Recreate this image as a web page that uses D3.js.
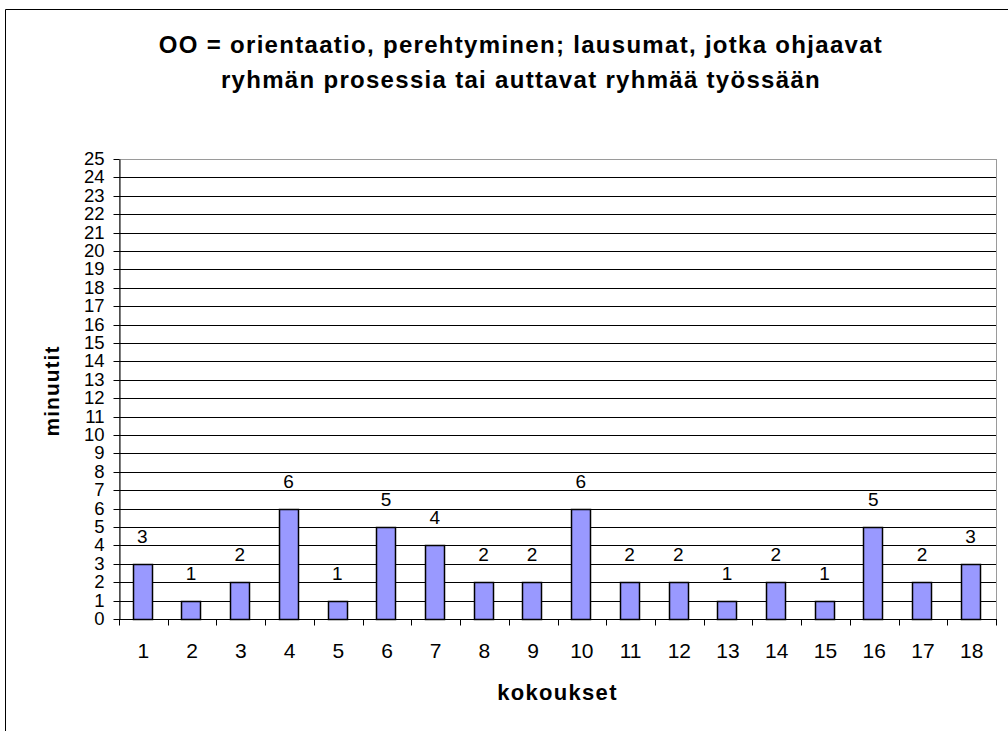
<!DOCTYPE html>
<html>
<head>
<meta charset="utf-8">
<script src="https://cdn.jsdelivr.net/npm/d3@7"></script>
<style>
  body { margin: 0; background: #fff; }
  text { font-family: Arial, "Liberation Sans", sans-serif; fill: #000; }
</style>
</head>
<body>
<svg id="chart" width="1008" height="731"></svg>
<script>
// data
const meetings = d3.range(1, 19).map(String);
const minutes = [3, 1, 2, 6, 1, 5, 4, 2, 2, 6, 2, 2, 1, 2, 1, 5, 2, 3];
const yTicks = d3.range(0, 26);
const titleLines = [
  "OO = orientaatio, perehtyminen; lausumat, jotka ohjaavat",
  "ryhmän prosessia tai auttavat ryhmää työssään"
];

const width = 1008, height = 731;
const margin = {left: 119, right: 12, top: 159, bottom: 112};
const w = width - margin.left - margin.right;
const h = height - margin.top - margin.bottom;

const svg = d3.select('#chart');

// outer chart frame (runs off the right and bottom edge)
svg.append('path')
  .attr('d', `M5.5,${height + 2}V9.5H${width + 2}`)
  .attr('fill', 'none')
  .attr('stroke', '#000');

// title
svg.append('g')
  .selectAll('text')
  .data(titleLines)
  .join('text')
    .attr('x', 521)
    .attr('y', (d, i) => 53 + i * 35)
    .attr('text-anchor', 'middle')
    .style('font-weight', 'bold')
    .style('font-size', '24px')
    .style('letter-spacing', '1.3px')
    .text(d => d);

const g = svg.append('g')
  .attr('transform', `translate(${margin.left}, ${margin.top})`);

const x = d3.scaleBand()
  .domain(meetings)
  .range([0, w])
  .paddingInner(0.6)
  .paddingOuter(0.3);

const y = d3.scaleLinear()
  .domain([0, 25])
  .range([h, 0]);

// plot border (grey)
g.append('rect')
  .attr('x', 0.5)
  .attr('y', 0.5)
  .attr('width', w)
  .attr('height', h)
  .attr('fill', 'none')
  .attr('stroke', '#9a9a9a');

// gridlines
g.append('g')
  .selectAll('line')
  .data(yTicks.filter(t => t > 0 && t < 25))
  .join('line')
    .attr('x1', 0)
    .attr('x2', w)
    .attr('y1', d => Math.round(y(d)) + 0.5)
    .attr('y2', d => Math.round(y(d)) + 0.5)
    .attr('stroke', '#000');

// y axis
const yAxis = g.append('g')
  .attr('transform', 'translate(0.5,0)')
  .call(d3.axisLeft(y).tickValues(yTicks).tickSize(6).tickPadding(9).tickSizeOuter(0))
  .call(ax => ax.selectAll('.tick').attr('transform', d => `translate(0,${Math.round(y(d)) + 0.5})`));
yAxis.selectAll('.tick text')
  .style('font-size', '18.5px')
  .style('font-family', 'Arial, "Liberation Sans", sans-serif');
yAxis.select('.domain').attr('stroke', '#000');

// bars
g.append('g')
  .selectAll('rect')
  .data(minutes)
  .join('rect')
    .attr('x', (d, i) => Math.round(x(meetings[i])) - 0.5)
    .attr('y', d => Math.round(y(d)) + 0.5)
    .attr('width', Math.round(x.bandwidth()))
    .attr('height', d => Math.round(y(0)) - Math.round(y(d)))
    .attr('fill', '#9999ff')
    .attr('stroke', '#000')
    .attr('stroke-width', 1.5);

// value labels
g.append('g')
  .selectAll('text')
  .data(minutes)
  .join('text')
    .attr('x', (d, i) => x(meetings[i]) + x.bandwidth() / 2 - 1)
    .attr('y', d => y(d) - 21)
    .attr('text-anchor', 'middle')
    .style('font-size', '19px')
    .text(d => d);

// x axis: ticks between categories
const boundaries = d3.range(0, meetings.length + 1).map(i => i * w / meetings.length);
const xAxisG = g.append('g')
  .attr('transform', `translate(0,${Math.round(h) + 0.5})`);
xAxisG.append('line')
  .attr('x1', 0)
  .attr('x2', w + 1)
  .attr('stroke', '#000');
xAxisG.selectAll('.tick')
  .data(boundaries)
  .join('line')
    .attr('class', 'tick')
    .attr('x1', d => Math.round(d) + 0.5)
    .attr('x2', d => Math.round(d) + 0.5)
    .attr('y1', 0)
    .attr('y2', 6)
    .attr('stroke', '#000');
xAxisG.selectAll('text')
  .data(meetings)
  .join('text')
    .attr('x', d => x(d) + x.bandwidth() / 2)
    .attr('y', 38)
    .attr('text-anchor', 'middle')
    .style('font-size', '21px')
    .text(d => d);

// axis titles
svg.append('text')
  .attr('transform', `translate(52,${margin.top + h / 2 + 2}) rotate(-90)`)
  .attr('text-anchor', 'middle')
  .attr('dy', '0.35em')
  .style('font-weight', 'bold')
  .style('font-size', '21px')
  .style('letter-spacing', '1px')
  .text('minuutit');

svg.append('text')
  .attr('x', margin.left + w / 2)
  .attr('y', 700)
  .attr('text-anchor', 'middle')
  .style('font-weight', 'bold')
  .style('font-size', '22px')
  .style('letter-spacing', '1.3px')
  .text('kokoukset');
</script>
</body>
</html>
